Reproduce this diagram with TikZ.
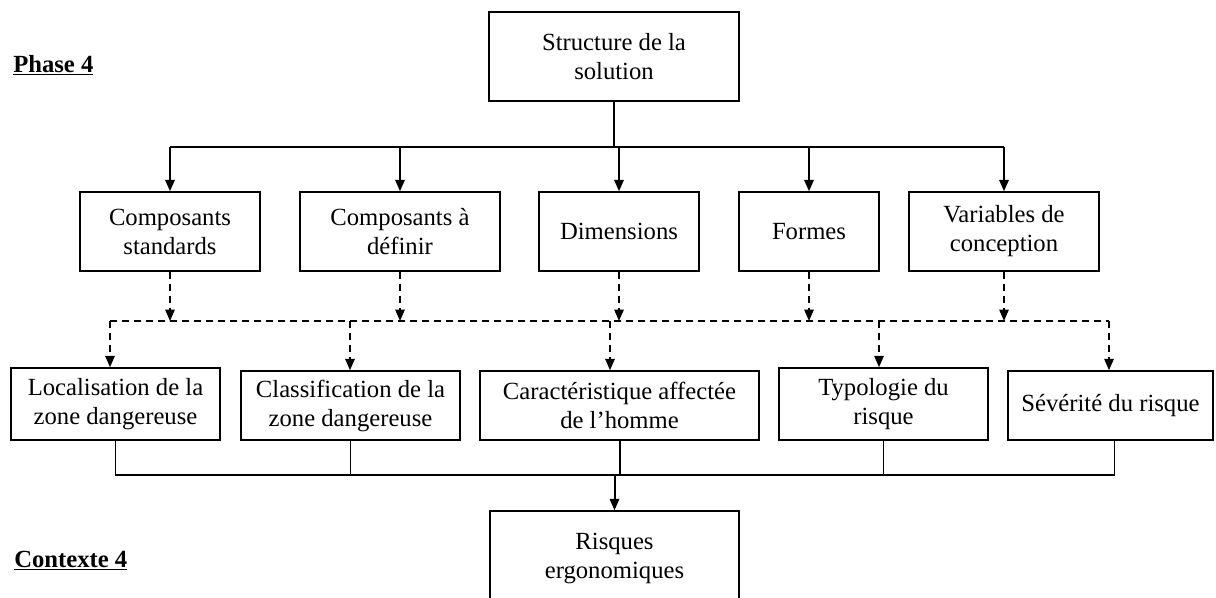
\documentclass[tikz,border=0pt]{standalone}
\usepackage{fontspec}
\setmainfont{Liberation Serif}
\usetikzlibrary{arrows.meta}
\begin{document}
\begin{tikzpicture}[x=0.75pt,y=-0.75pt,
  box/.style={draw, line width=1.1pt, align=center, inner sep=0pt,
    font=\fontsize{18.5}{21.75}\selectfont},
  sz/.style 2 args={minimum width=#1*0.75pt, minimum height=#2*0.75pt},
  conn/.style={line width=1.5pt},
  thin/.style={line width=0.8pt},
  arr/.style={-{Triangle[length=8.5pt,width=7pt]}},
  dsh/.style={line width=1.2pt, dash pattern=on 5.5pt off 3.5pt},
  lbl/.style={font=\fontsize{18.5}{21.75}\selectfont\bfseries, inner sep=0pt, anchor=base west}]
\useasboundingbox (0,0) rectangle (1216,597);
\clip (0,0) rectangle (1216,597);

% labels
\node[lbl] (ph) at (13,72) {\underline{Phase 4}};
\node[lbl] (ctx) at (14,567) {\underline{Contexte 4}};

% top box
\node[box, sz={250}{89}] (top) at (614,56.5) {Structure de la\\solution};

% row 2
\node[box, sz={180}{79}] (cs)  at (170,231.5)  {Composants\\standards};
\node[box, sz={200}{79}] (cd)  at (400,231.5)  {Composants à\\définir};
\node[box, sz={160}{79}] (dim) at (619,231.5)  {Dimensions};
\node[box, sz={140}{79}] (for) at (809,231.5)  {Formes};
\node[box, sz={190}{79}] (var) at (1004,231.5) {Variables de\\conception};

% row 3
\node[box, sz={209}{72}] (loc) at (115.5,404)  {Localisation de la\\zone dangereuse};
\node[box, sz={219}{69}] (cla) at (350.5,405.5) {Classification de la\\zone dangereuse};
\node[box, sz={279}{69}] (car) at (619.5,405.5) {Caractéristique affectée\\de l’homme};
\node[box, sz={209}{72}] (typ) at (883.5,404)  {Typologie du\\risque};
\node[box, sz={205}{69}] (sev) at (1110.5,405.5) {Sévérité du risque};

% bottom box
\node[box, sz={249}{94}] (ris) at (614.5,558) {Risques\\ergonomiques};

% top bus
\coordinate (t1) at (614,147);
\draw[conn] (top.south) -- (top.south |- t1);
\draw[conn] (cs.north |- t1) -- (var.north |- t1);
\foreach \n in {cs,cd,dim,for,var}
  \draw[conn,arr] (\n.north |- t1) -- (\n.north);

% dashed bus
\coordinate (db) at (0,321);
\coordinate (d1) at (110,321);
\coordinate (d2) at (350,321);
\coordinate (d3) at (610,321);
\coordinate (d4) at (879,321);
\coordinate (d5) at (1109,321);
\foreach \n in {cs,cd,dim,for,var}
  \draw[dsh,arr] (\n.south) -- (\n.south |- db);
\draw[dsh] (d1) -- (d5);
\draw[dsh,arr] (d1) -- (d1 |- loc.north);
\draw[dsh,arr] (d2) -- (d2 |- cla.north);
\draw[dsh,arr] (d3) -- (d3 |- car.north);
\draw[dsh,arr] (d4) -- (d4 |- typ.north);
\draw[dsh,arr] (d5) -- (d5 |- sev.north);

% bottom bus
\coordinate (bb) at (0,475);
\draw[thin] (loc.south) -- (loc.south |- bb) -- (cla.south |- bb);
\draw[thin] (cla.south) -- (cla.south |- bb);
\draw[conn] (cla.south |- bb) -- (typ.south |- bb);
\draw[conn] (car.south) -- (car.south |- bb);
\draw[thin] (typ.south) -- (typ.south |- bb) -- ([xshift=3pt]sev.south |- bb) -- ([xshift=3pt]sev.south);
\draw[conn,arr] (ris.north |- bb) -- (ris.north);
\end{tikzpicture}
\end{document}
